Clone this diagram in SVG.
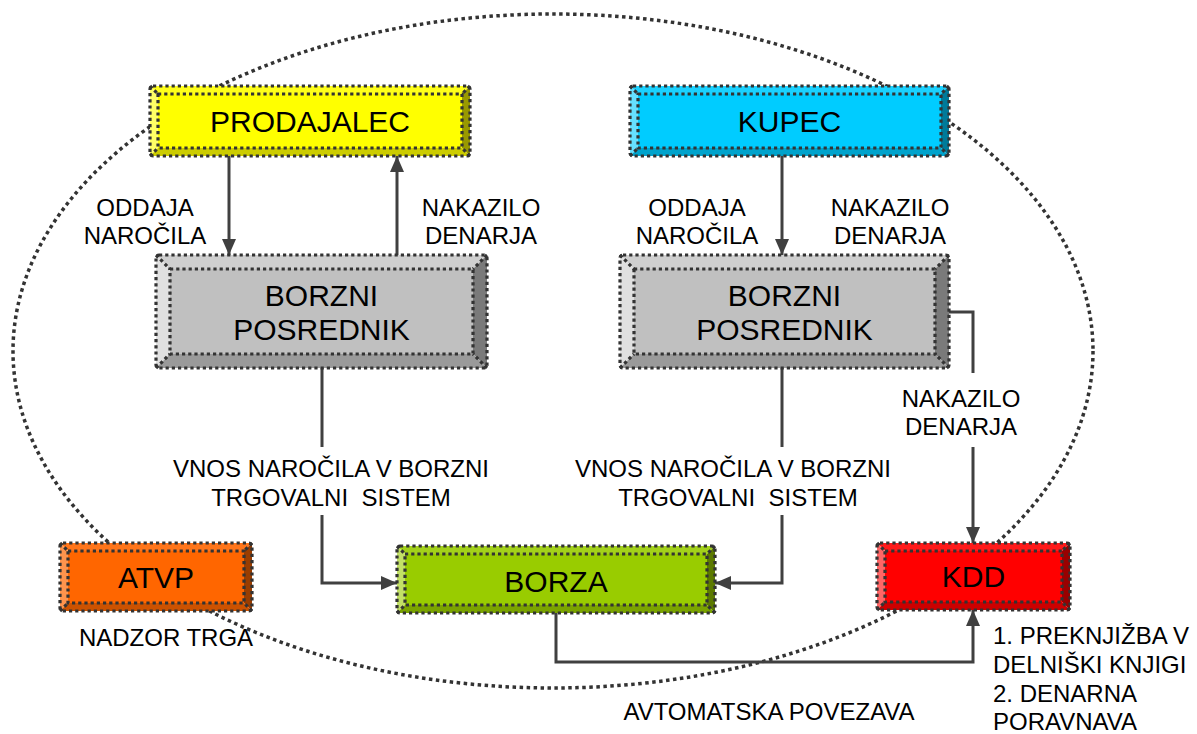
<svg xmlns="http://www.w3.org/2000/svg" width="1197" height="734" viewBox="0 0 1197 734">
<style>
.dot{fill:none;stroke:#333;stroke-width:3.2;stroke-dasharray:3.2 3}
.con{fill:none;stroke:#404040;stroke-width:3}
.bt{font-family:"Liberation Sans",Arial,sans-serif;font-size:30px;fill:#000;text-anchor:middle}
.lb{font-family:"Liberation Sans",Arial,sans-serif;font-size:24px;fill:#000;text-anchor:middle}
.ll{font-family:"Liberation Sans",Arial,sans-serif;font-size:24px;fill:#000}
</style>
<defs>
<marker id="ah" viewBox="0 0 16 14" refX="16" refY="7" markerWidth="16" markerHeight="14" markerUnits="userSpaceOnUse" orient="auto">
<path d="M0,0 L16,7 L0,14 z" fill="#404040"/>
</marker>
</defs>
<rect width="1197" height="734" fill="#fff"/>
<ellipse id="market" cx="553" cy="351" rx="540" ry="337" fill="none" stroke="#333" stroke-width="3.5" stroke-dasharray="3.5 3.5"/>
<g id="connectors">
<path class="con" d="M229,156 V255" marker-end="url(#ah)"/>
<path class="con" d="M397,255 V156" marker-end="url(#ah)"/>
<path class="con" d="M782,156 V255" marker-end="url(#ah)"/>
<path class="con" d="M322,368 V447 M322,515 V583 H397" marker-end="url(#ah)"/>
<path class="con" d="M782,368 V447 M782,515 V583 H715" marker-end="url(#ah)"/>
<path class="con" d="M949,312 H973 V373 M973,447 V543" marker-end="url(#ah)"/>
<path class="con" d="M556,613 V662 H973 V610" marker-end="url(#ah)"/>
</g>
<g id="prodajalec">
<polygon points="150,86 470,86 462,94 158,94" fill="#ffff1a"/>
<polygon points="150,86 158,94 158,148 150,156" fill="#ffff66"/>
<polygon points="470,86 470,156 462,148 462,94" fill="#999900"/>
<polygon points="150,156 470,156 462,148 158,148" fill="#cccc00"/>
<rect x="158" y="94" width="304" height="54" fill="#ffff00"/>
<rect class="dot" x="150" y="86" width="320" height="70" rx="3"/>
<rect class="dot" x="158" y="94" width="304" height="54"/>
<path class="dot" d="M150,86 L158,94 M470,86 L462,94 M150,156 L158,148 M470,156 L462,148"/>
<text class="bt" x="310" y="132">PRODAJALEC</text>
</g>
<g id="kupec">
<polygon points="630,86 949,86 941,94 638,94" fill="#1ad1ff"/>
<polygon points="630,86 638,94 638,148 630,156" fill="#66e0ff"/>
<polygon points="949,86 949,156 941,148 941,94" fill="#007a99"/>
<polygon points="630,156 949,156 941,148 638,148" fill="#00a3cc"/>
<rect x="638" y="94" width="303" height="54" fill="#00ccff"/>
<rect class="dot" x="630" y="86" width="319" height="70" rx="3"/>
<rect class="dot" x="638" y="94" width="303" height="54"/>
<path class="dot" d="M630,86 L638,94 M949,86 L941,94 M630,156 L638,148 M949,156 L941,148"/>
<text class="bt" x="789.5" y="132">KUPEC</text>
</g>
<g id="posrednik-left">
<polygon points="156,255 487,255 473,269 170,269" fill="#cfcfcf"/>
<polygon points="156,255 170,269 170,354 156,368" fill="#e0e0e0"/>
<polygon points="487,255 487,368 473,354 473,269" fill="#7a7a7a"/>
<polygon points="156,368 487,368 473,354 170,354" fill="#9a9a9a"/>
<rect x="170" y="269" width="303" height="85" fill="#c0c0c0"/>
<rect class="dot" x="156" y="255" width="331" height="113" rx="3"/>
<rect class="dot" x="170" y="269" width="303" height="85"/>
<path class="dot" d="M156,255 L170,269 M487,255 L473,269 M156,368 L170,354 M487,368 L473,354"/>
<text class="bt" x="321.5" y="306">BORZNI</text>
<text class="bt" x="321.5" y="340">POSREDNIK</text>
</g>
<g id="posrednik-right">
<polygon points="620,255 949,255 935,269 634,269" fill="#cfcfcf"/>
<polygon points="620,255 634,269 634,354 620,368" fill="#e0e0e0"/>
<polygon points="949,255 949,368 935,354 935,269" fill="#7a7a7a"/>
<polygon points="620,368 949,368 935,354 634,354" fill="#9a9a9a"/>
<rect x="634" y="269" width="301" height="85" fill="#c0c0c0"/>
<rect class="dot" x="620" y="255" width="329" height="113" rx="3"/>
<rect class="dot" x="634" y="269" width="301" height="85"/>
<path class="dot" d="M620,255 L634,269 M949,255 L935,269 M620,368 L634,354 M949,368 L935,354"/>
<text class="bt" x="784.5" y="306">BORZNI</text>
<text class="bt" x="784.5" y="340">POSREDNIK</text>
</g>
<g id="borza">
<polygon points="397,546 715,546 707,554 405,554" fill="#a3d11a"/>
<polygon points="397,546 405,554 405,605 397,613" fill="#c2e066"/>
<polygon points="715,546 715,613 707,605 707,554" fill="#5c7a00"/>
<polygon points="397,613 715,613 707,605 405,605" fill="#7aa300"/>
<rect x="405" y="554" width="302" height="51" fill="#99cc00"/>
<rect class="dot" x="397" y="546" width="318" height="67" rx="3"/>
<rect class="dot" x="405" y="554" width="302" height="51"/>
<path class="dot" d="M397,546 L405,554 M715,546 L707,554 M397,613 L405,605 M715,613 L707,605"/>
<text class="bt" x="556" y="592">BORZA</text>
</g>
<g id="atvp">
<polygon points="60,543 252,543 244,551 68,551" fill="#ff751a"/>
<polygon points="60,543 68,551 68,603 60,611" fill="#ff944d"/>
<polygon points="252,543 252,611 244,603 244,551" fill="#993d00"/>
<polygon points="60,611 252,611 244,603 68,603" fill="#cc5200"/>
<rect x="68" y="551" width="176" height="52" fill="#ff6600"/>
<rect class="dot" x="60" y="543" width="192" height="68" rx="3"/>
<rect class="dot" x="68" y="551" width="176" height="52"/>
<path class="dot" d="M60,543 L68,551 M252,543 L244,551 M60,611 L68,603 M252,611 L244,603"/>
<text class="bt" x="156" y="588">ATVP</text>
</g>
<g id="kdd">
<polygon points="877,543 1070,543 1062,551 885,551" fill="#ff1a1a"/>
<polygon points="877,543 885,551 885,602 877,610" fill="#ff6666"/>
<polygon points="1070,543 1070,610 1062,602 1062,551" fill="#990000"/>
<polygon points="877,610 1070,610 1062,602 885,602" fill="#cc0000"/>
<rect x="885" y="551" width="177" height="51" fill="#ff0000"/>
<rect class="dot" x="877" y="543" width="193" height="67" rx="3"/>
<rect class="dot" x="885" y="551" width="177" height="51"/>
<path class="dot" d="M877,543 L885,551 M1070,543 L1062,551 M877,610 L885,602 M1070,610 L1062,602"/>
<text class="bt" x="973.5" y="587">KDD</text>
</g>
<g id="labels">
<text class="lb" x="145" y="216">ODDAJA</text>
<text class="lb" x="145" y="244">NAROČILA</text>
<text class="lb" x="481" y="216">NAKAZILO</text>
<text class="lb" x="481" y="244">DENARJA</text>
<text class="lb" x="697" y="216">ODDAJA</text>
<text class="lb" x="697" y="244">NAROČILA</text>
<text class="lb" x="890" y="216">NAKAZILO</text>
<text class="lb" x="890" y="244">DENARJA</text>
<text class="lb" x="961" y="407">NAKAZILO</text>
<text class="lb" x="961" y="435">DENARJA</text>
<text class="lb" x="331" y="477">VNOS NAROČILA V BORZNI</text>
<text class="lb" x="331" y="506" xml:space="preserve">TRGOVALNI  SISTEM</text>
<text class="lb" x="733" y="477">VNOS NAROČILA V BORZNI</text>
<text class="lb" x="738" y="506" xml:space="preserve">TRGOVALNI  SISTEM</text>
<text class="lb" x="166" y="646">NADZOR TRGA</text>
<text class="lb" x="769" y="720">AVTOMATSKA POVEZAVA</text>
<text class="ll" x="993" y="644">1. PREKNJIŽBA V</text>
<text class="ll" x="993" y="673">DELNIŠKI KNJIGI</text>
<text class="ll" x="993" y="702">2. DENARNA</text>
<text class="ll" x="993" y="730">PORAVNAVA</text>
</g>
</svg>
